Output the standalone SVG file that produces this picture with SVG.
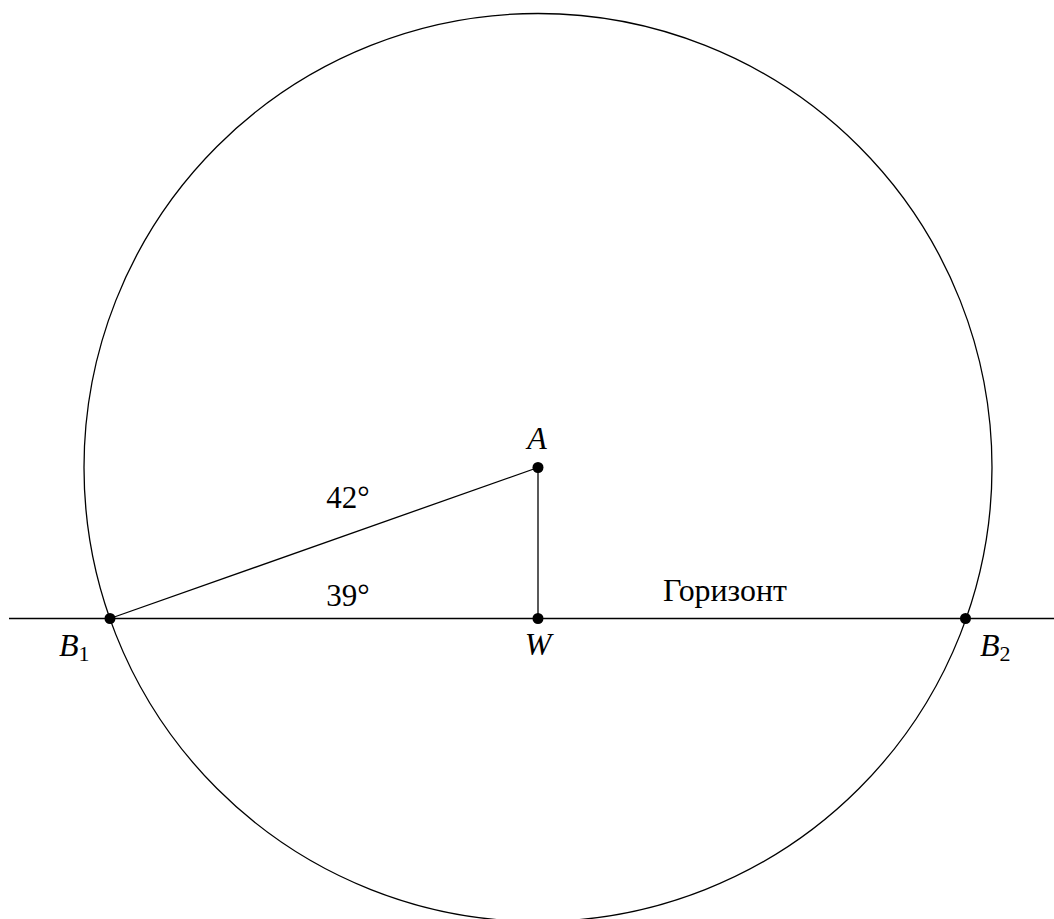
<svg xmlns="http://www.w3.org/2000/svg" width="1054" height="919" viewBox="0 0 1054 919">
<style>
.ln{stroke:#000;stroke-width:1.3;fill:none}
.dot{fill:#000}
.m{font-family:'Liberation Serif','Times New Roman',serif;font-style:italic;font-size:32px;fill:#000}
.t{font-family:'Liberation Serif','Times New Roman',serif;font-size:31px;fill:#000}
.s{font-style:normal;font-size:22px}
</style>
<rect width="1054" height="919" fill="#fff"/>
<g id="connectors">
<circle class="ln" cx="538" cy="467.5" r="454"/>
<line class="ln" x1="9" y1="618.5" x2="1054" y2="618.5"/>
<line class="ln" x1="110" y1="618.5" x2="538" y2="467.5"/>
<line class="ln" x1="538" y1="467.5" x2="538" y2="618.5" stroke="#444"/>
</g>
<g id="node-A"><circle class="dot" cx="538" cy="467.5" r="5.5"/><text class="m" x="537" y="449" text-anchor="middle">A</text></g>
<g id="node-W"><circle class="dot" cx="538" cy="618.5" r="5.5"/><text class="m" x="538" y="655" text-anchor="middle">W</text></g>
<g id="node-B1"><circle class="dot" cx="110" cy="618.5" r="5.5"/><text class="m" x="59" y="656">B<tspan class="s" dy="5">1</tspan></text></g>
<g id="node-B2"><circle class="dot" cx="965.5" cy="618.5" r="5.5"/><text class="m" x="980" y="656">B<tspan class="s" dy="5">2</tspan></text></g>
<g id="labels">
<text class="t" x="348" y="508" text-anchor="middle">42°</text>
<text class="t" x="348" y="606" text-anchor="middle">39°</text>
<text class="t" x="663" y="601" font-size="28" textLength="124" lengthAdjust="spacingAndGlyphs">Горизонт</text>
</g>
</svg>
